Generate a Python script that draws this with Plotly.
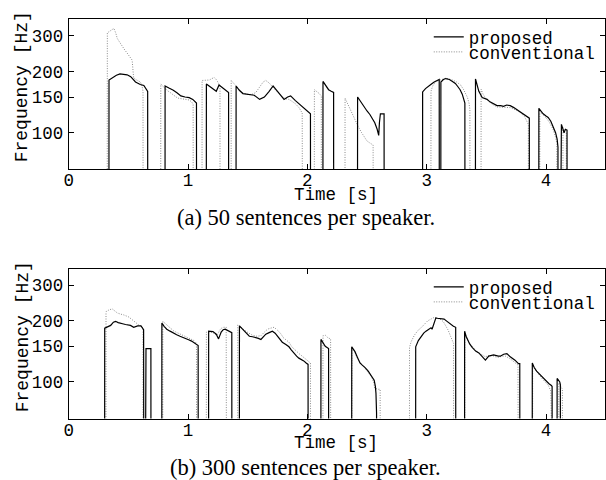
import numpy as np
import plotly.graph_objects as go

# ---------------- data (time [s], F0 [Hz]; 0 = unvoiced) ----------------
x_ticks = [0, 1, 2, 3, 4]
y_ticks = [100, 150, 200, 300]
y_ticktext = ["100", "150", "200", "300"]
series_names = ["proposed", "conventional"]
captions = ["(a) 50 sentences per speaker.", "(b) 300 sentences per speaker."]

a_proposed = [
    (0.0, 0), (0.336, 0), (0.338, 182), (0.36, 186), (0.40, 192), (0.43, 195), (0.46, 194), (0.49, 193),
    (0.52, 189), (0.54, 183), (0.56, 178), (0.60, 173), (0.63, 171), (0.662, 160), (0.664, 0),
    (0.806, 0), (0.808, 170), (0.84, 166), (0.877, 162), (0.91, 157), (0.94, 152), (0.975, 150),
    (1.01, 149), (1.04, 146), (1.06, 141), (1.071, 140), (1.073, 0),
    (1.152, 0), (1.154, 174), (1.18, 170), (1.21, 165), (1.237, 160), (1.26, 172), (1.29, 167),
    (1.32, 162), (1.34, 158), (1.342, 0),
    (1.401, 0), (1.403, 170), (1.43, 162), (1.46, 156), (1.51, 154), (1.555, 153), (1.60, 146),
    (1.64, 150), (1.68, 160), (1.713, 170), (1.75, 160), (1.78, 151), (1.805, 146), (1.835, 150),
    (1.86, 152), (1.90, 144), (1.93, 139), (1.96, 134), (2.00, 128), (2.026, 124), (2.028, 0),
    (2.129, 0), (2.131, 179), (2.15, 172), (2.178, 163), (2.20, 160), (2.22, 158), (2.222, 0),
    (2.419, 0), (2.421, 150), (2.44, 144), (2.455, 139), (2.482, 132), (2.50, 128), (2.524, 123),
    (2.545, 118), (2.565, 112), (2.585, 104), (2.598, 97), (2.604, 112), (2.612, 124), (2.643, 124), (2.645, 0),
    (2.964, 0), (2.966, 159), (2.99, 165), (3.01, 169), (3.04, 174), (3.063, 178), (3.085, 181),
    (3.105, 183), (3.107, 0),
    (3.117, 0), (3.119, 178), (3.14, 183), (3.16, 185), (3.19, 183), (3.216, 179), (3.24, 175),
    (3.257, 170), (3.28, 163), (3.298, 155), (3.32, 140), (3.322, 0),
    (3.407, 0), (3.409, 184), (3.42, 172), (3.437, 160), (3.465, 149), (3.49, 147), (3.506, 146),
    (3.53, 142), (3.56, 139), (3.589, 136), (3.62, 136), (3.644, 135), (3.67, 137), (3.70, 136),
    (3.73, 133), (3.755, 130), (3.78, 127), (3.81, 124), (3.84, 120), (3.86, 118), (3.862, 0),
    (3.938, 0), (3.94, 132), (3.96, 127), (3.976, 124), (4.00, 121), (4.018, 119), (4.04, 114),
    (4.059, 107), (4.08, 100), (4.093, 93), (4.10, 85), (4.102, 0),
    (4.127, 0), (4.129, 110), (4.14, 105), (4.151, 100), (4.162, 104), (4.176, 103), (4.178, 0),
    (4.49, 0),
]

a_conventional = [
    (0.0, 0), (0.322, 0), (0.324, 311), (0.35, 318), (0.379, 327), (0.395, 310), (0.407, 292),
    (0.43, 278), (0.448, 266), (0.47, 256), (0.49, 247), (0.51, 238), (0.532, 228), (0.54, 200),
    (0.545, 186), (0.57, 182), (0.601, 178), (0.615, 170), (0.623, 160), (0.625, 0),
    (0.770, 0), (0.772, 174), (0.80, 166), (0.822, 162), (0.85, 158), (0.877, 153), (0.90, 150),
    (0.919, 148), (0.95, 147), (0.98, 146), (1.01, 145), (1.03, 142), (1.043, 138), (1.045, 0),
    (1.116, 0), (1.118, 181), (1.15, 181), (1.18, 182), (1.20, 185), (1.22, 187), (1.24, 182),
    (1.262, 172), (1.268, 170), (1.270, 0),
    (1.360, 0), (1.362, 181), (1.38, 176), (1.403, 169), (1.43, 163), (1.46, 157), (1.51, 154),
    (1.54, 155), (1.569, 158), (1.60, 168), (1.63, 178), (1.652, 181), (1.68, 176), (1.71, 168),
    (1.735, 162), (1.76, 156), (1.79, 150), (1.82, 147), (1.846, 146), (1.87, 143), (1.90, 139),
    (1.93, 133), (1.957, 125), (1.962, 0),
    (2.057, 0), (2.059, 163), (2.08, 160), (2.10, 156), (2.117, 152), (2.119, 0),
    (2.314, 0), (2.316, 148), (2.34, 138), (2.372, 125), (2.40, 115), (2.427, 107), (2.455, 100),
    (2.482, 94), (2.50, 91), (2.524, 89), (2.551, 87), (2.557, 0),
    (3.034, 0), (3.036, 160), (3.05, 170), (3.078, 179), (3.113, 181), (3.14, 184), (3.16, 186),
    (3.19, 184), (3.216, 182), (3.25, 178), (3.284, 172), (3.31, 163), (3.34, 150), (3.355, 140),
    (3.362, 130), (3.364, 0),
    (3.454, 0), (3.456, 164), (3.47, 156), (3.492, 148), (3.52, 143), (3.55, 138), (3.589, 134),
    (3.62, 134), (3.65, 134), (3.70, 133), (3.74, 130), (3.783, 126), (3.82, 120), (3.852, 110), (3.854, 0),
    (3.946, 0), (3.948, 127), (3.97, 123), (4.004, 118), (4.03, 112), (4.059, 104), (4.08, 95),
    (4.09, 89), (4.092, 0),
    (4.140, 0), (4.142, 106), (4.155, 101), (4.17, 100), (4.172, 0),
    (4.49, 0),
]

b_proposed = [
    (0.0, 0), (0.300, 0), (0.302, 184), (0.33, 187), (0.352, 190), (0.375, 197), (0.393, 199),
    (0.415, 196), (0.435, 194), (0.46, 193), (0.476, 192), (0.50, 191), (0.518, 190), (0.545, 186),
    (0.565, 188), (0.578, 189), (0.606, 189), (0.628, 181), (0.632, 0),
    (0.646, 0), (0.648, 146), (0.689, 146), (0.691, 0),
    (0.779, 0), (0.781, 195), (0.80, 188), (0.822, 182), (0.85, 178), (0.877, 174), (0.905, 171),
    (0.933, 168), (0.96, 166), (0.988, 163), (1.01, 161), (1.03, 159), (1.05, 156), (1.071, 152),
    (1.085, 151), (1.087, 0),
    (1.171, 0), (1.173, 178), (1.19, 178), (1.209, 177), (1.237, 172), (1.256, 163), (1.278, 176),
    (1.295, 181), (1.312, 182), (1.34, 178), (1.367, 175), (1.369, 0),
    (1.429, 0), (1.431, 189), (1.45, 184), (1.473, 178), (1.49, 173), (1.514, 168), (1.54, 167),
    (1.569, 166), (1.59, 164), (1.611, 162), (1.63, 167), (1.652, 172), (1.68, 175), (1.707, 178),
    (1.73, 174), (1.749, 169), (1.77, 163), (1.79, 157), (1.82, 153), (1.846, 149), (1.865, 144),
    (1.888, 138), (1.91, 134), (1.929, 131), (1.95, 129), (1.97, 127), (1.99, 124), (2.006, 122), (2.008, 0),
    (2.112, 0), (2.114, 162), (2.13, 156), (2.15, 150), (2.178, 146), (2.180, 0),
    (2.370, 0), (2.372, 149), (2.385, 145), (2.399, 141), (2.42, 132), (2.441, 124), (2.46, 121),
    (2.482, 118), (2.51, 113), (2.537, 107), (2.56, 102), (2.57, 95), (2.575, 88), (2.58, 70), (2.582, 0),
    (2.906, 0), (2.908, 149), (2.93, 160), (2.953, 168), (2.975, 174), (2.994, 178), (3.015, 181),
    (3.036, 185), (3.045, 182), (3.055, 190), (3.077, 207), (3.09, 206), (3.105, 205), (3.125, 205),
    (3.146, 204), (3.165, 200), (3.188, 195), (3.21, 191), (3.224, 188), (3.243, 186), (3.245, 0),
    (3.316, 0), (3.318, 178), (3.33, 168), (3.34, 162), (3.36, 154), (3.381, 148), (3.41, 142),
    (3.437, 139), (3.46, 134), (3.492, 128), (3.52, 134), (3.561, 136), (3.60, 134), (3.617, 134),
    (3.645, 137), (3.672, 138), (3.70, 133), (3.74, 128), (3.769, 123), (3.78, 123), (3.782, 0),
    (3.883, 0), (3.885, 124), (3.90, 118), (3.921, 113), (3.94, 110), (3.962, 107), (3.98, 104),
    (4.004, 101), (4.025, 98), (4.045, 96), (4.051, 95), (4.053, 0),
    (4.091, 0), (4.093, 104), (4.105, 102), (4.115, 100), (4.12, 97), (4.122, 0),
    (4.49, 0),
]

b_conventional = [
    (0.0, 0), (0.311, 0), (0.313, 222), (0.34, 227), (0.366, 229), (0.385, 224), (0.407, 219),
    (0.435, 216), (0.462, 214), (0.504, 209), (0.545, 199), (0.587, 191), (0.61, 188), (0.623, 184), (0.625, 0),
    (0.787, 0), (0.789, 199), (0.81, 194), (0.83, 188), (0.85, 184), (0.877, 179), (0.90, 176),
    (0.93, 173), (0.96, 170), (0.99, 167), (1.02, 164), (1.05, 160), (1.071, 155), (1.073, 0),
    (1.152, 0), (1.154, 176), (1.18, 176), (1.209, 175), (1.237, 170), (1.25, 172), (1.265, 180),
    (1.28, 184), (1.30, 186), (1.32, 186), (1.326, 0),
    (1.415, 0), (1.417, 191), (1.44, 186), (1.473, 180), (1.51, 174), (1.54, 170), (1.577, 168),
    (1.611, 169), (1.64, 176), (1.666, 182), (1.69, 184), (1.721, 186), (1.75, 180), (1.777, 173),
    (1.80, 165), (1.846, 157), (1.87, 149), (1.90, 143), (1.93, 138), (1.97, 132), (2.00, 128),
    (2.026, 124), (2.028, 0),
    (2.129, 0), (2.131, 169), (2.15, 170), (2.173, 165), (2.195, 163), (2.197, 0),
    (2.372, 0), (2.374, 148), (2.39, 143), (2.42, 131), (2.441, 125), (2.46, 121), (2.482, 117),
    (2.51, 112), (2.537, 106), (2.555, 100), (2.565, 93), (2.593, 92), (2.61, 92), (2.612, 0),
    (2.854, 0), (2.856, 148), (2.87, 158), (2.897, 170), (2.925, 179), (2.953, 185), (2.98, 193),
    (3.008, 200), (3.035, 204), (3.063, 208), (3.09, 206), (3.119, 203), (3.14, 198), (3.16, 190),
    (3.18, 180), (3.20, 168), (3.215, 160), (3.225, 155), (3.227, 0),
    (3.318, 0), (3.32, 174), (3.34, 162), (3.36, 155), (3.381, 149), (3.41, 143), (3.437, 139),
    (3.46, 136), (3.492, 133), (3.52, 135), (3.55, 135), (3.576, 133), (3.60, 132), (3.63, 134),
    (3.66, 134), (3.70, 130), (3.74, 125), (3.765, 121), (3.772, 0),
    (3.886, 0), (3.888, 121), (3.90, 117), (3.93, 111), (3.96, 105), (4.00, 99), (4.02, 96),
    (4.04, 90), (4.042, 0),
    (4.105, 0), (4.107, 99), (4.12, 96), (4.137, 92), (4.140, 0),
    (4.49, 0),
]

# ---------------- figure ----------------
W, H = 606, 480
MONO = "Liberation Mono"
SERIF = "Liberation Serif"
FS = 17.5
FLOOR = 1.0  # unvoiced frames are drawn at a floor below the axis range


def unzip(pairs):
    t = np.array([p[0] for p in pairs], dtype=float)
    f = np.array([p[1] for p in pairs], dtype=float)
    f = np.where(f <= 0, FLOOR, f)
    return t, f


fig = go.Figure()
panels = [(a_proposed, a_conventional, "x", "y", "legend", "legend2"),
          (b_proposed, b_conventional, "x2", "y2", "legend3", "legend4")]
for prop, conv, xa, ya, lg1, lg2 in panels:
    t, f = unzip(conv)
    fig.add_trace(go.Scatter(x=t, y=f, mode="lines", name=series_names[1],
                             line=dict(color="#8a8a8a", width=1, dash="1px,1.5px"),
                             xaxis=xa, yaxis=ya, legend=lg2))
    t, f = unzip(prop)
    fig.add_trace(go.Scatter(x=t, y=f, mode="lines", name=series_names[0],
                             line=dict(color="black", width=1.2),
                             xaxis=xa, yaxis=ya, legend=lg1))

xl, xr = 64.3 / W, 605.5 / W
top_dom = [1 - 169.3 / H, 1 - 19.3 / H]
bot_dom = [1 - 418.5 / H, 1 - 268.5 / H]

axis_common = dict(showline=True, linecolor="black", linewidth=1, mirror="ticks",
                   ticks="inside", ticklen=5, tickcolor="black", tickwidth=1,
                   showgrid=False, zeroline=False,
                   tickfont=dict(family=MONO, size=FS, color="black"))
xcommon = dict(axis_common, range=[0, 4.49], tickvals=x_ticks, domain=[xl, xr],
               ticklabelstandoff=-5)
ycommon = dict(axis_common, type="log", range=[np.log10(66.0), np.log10(362.6)],
               tickvals=y_ticks, ticktext=y_ticktext, ticklabelstandoff=1)

legend_common = dict(font=dict(family=MONO, size=FS, color="black"), bgcolor="rgba(0,0,0,0)",
                     borderwidth=0, xref="paper", yref="paper", xanchor="left", yanchor="middle",
                     itemwidth=30, tracegroupgap=0)
lx = 428 / W

fig.update_layout(
    width=W, height=H, margin=dict(l=0, r=0, t=0, b=0),
    paper_bgcolor="white", plot_bgcolor="white", showlegend=True,
    xaxis=dict(xcommon, anchor="y"),
    yaxis=dict(ycommon, domain=top_dom, anchor="x"),
    xaxis2=dict(xcommon, anchor="y2"),
    yaxis2=dict(ycommon, domain=bot_dom, anchor="x2"),
    legend=dict(legend_common, x=lx, y=1 - 37 / H),
    legend2=dict(legend_common, x=lx, y=1 - 52 / H),
    legend3=dict(legend_common, x=lx, y=1 - 287 / H),
    legend4=dict(legend_common, x=lx, y=1 - 302 / H),
)

ann = []
for cy_time, cy_freq, cy_cap, cap in [(195, 86.5, 217, captions[0]), (443, 336.5, 467, captions[1])]:
    ann.append(dict(text="Time [s]", x=334 / W, y=1 - cy_time / H, xref="paper", yref="paper",
                    showarrow=False, xanchor="center", yanchor="middle",
                    font=dict(family=MONO, size=FS, color="black")))
    ann.append(dict(text="Frequency [Hz]", x=18 / W, y=1 - cy_freq / H, xref="paper", yref="paper",
                    showarrow=False, xanchor="center", yanchor="middle", textangle=-90,
                    font=dict(family=MONO, size=FS + 0.5, color="black")))
    ann.append(dict(text=cap, x=304 / W, y=1 - cy_cap / H, xref="paper", yref="paper",
                    showarrow=False, xanchor="center", yanchor="middle",
                    font=dict(family=SERIF, size=22.5, color="black")))
fig.update_layout(annotations=ann)

fig.write_html("out.html")
